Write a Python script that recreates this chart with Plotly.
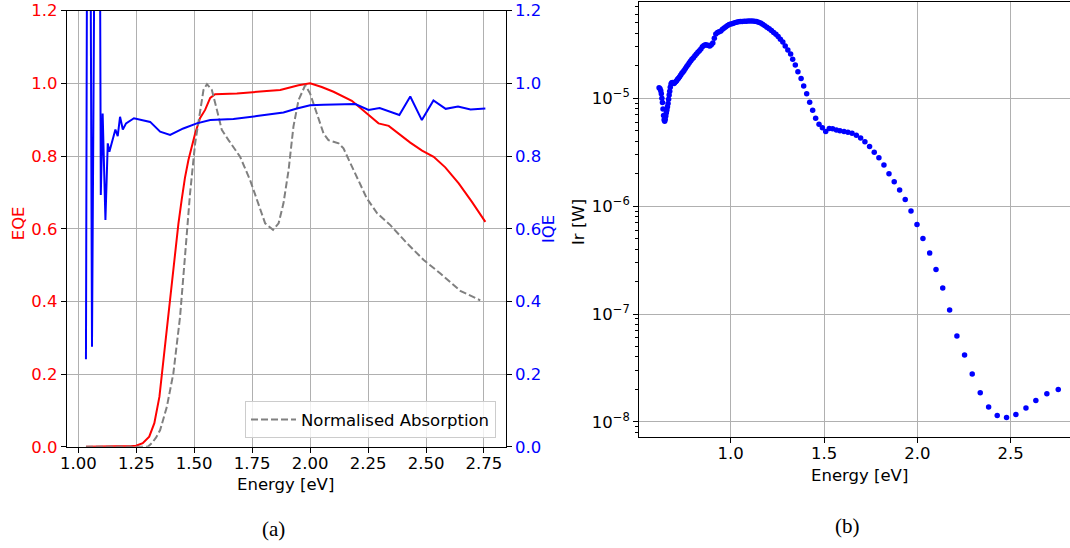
import plotly.graph_objects as go

# ---------------- (a) quantum efficiency vs photon energy ----------------
eqe_energy = [1.033, 1.10, 1.15, 1.20, 1.23, 1.249, 1.278, 1.306, 1.328, 1.350, 1.371,
              1.393, 1.417, 1.432, 1.446, 1.460, 1.475, 1.504, 1.525, 1.547, 1.569, 1.590, 1.684,
              1.741, 1.813, 1.871, 1.914, 1.950, 2.000, 2.050, 2.101, 2.180, 2.245,
              2.295, 2.339, 2.385, 2.432, 2.483, 2.533, 2.583, 2.641, 2.698, 2.756]
eqe = [0.0, 0.0, 0.0, 0.001, 0.002, 0.003, 0.010, 0.028, 0.065, 0.138, 0.257,
       0.385, 0.535, 0.615, 0.680, 0.740, 0.789, 0.862, 0.904, 0.927, 0.960, 0.970, 0.972,
       0.976, 0.979, 0.982, 0.989, 0.995, 1.000, 0.990, 0.977, 0.952, 0.917,
       0.890, 0.883, 0.860, 0.837, 0.815, 0.798, 0.769, 0.725, 0.674, 0.619]

iqe_energy = [1.033, 1.044, 1.059, 1.085, 1.097, 1.105, 1.117, 1.127, 1.134, 1.160,
              1.170, 1.180, 1.192, 1.206, 1.240, 1.275, 1.310, 1.353, 1.396, 1.453,
              1.511, 1.569, 1.669, 1.770, 1.885, 1.943, 2.000, 2.058, 2.140, 2.195,
              2.252, 2.300, 2.385, 2.432, 2.482, 2.532, 2.585, 2.638, 2.692, 2.756]
iqe = [0.241, 3.0, 0.275, 3.0, 0.693, 0.917, 0.624, 0.835, 0.812, 0.873,
       0.855, 0.908, 0.873, 0.890, 0.904, 0.900, 0.894, 0.867, 0.858, 0.876,
       0.890, 0.899, 0.902, 0.910, 0.920, 0.931, 0.940, 0.941, 0.941, 0.943,
       0.927, 0.932, 0.913, 0.964, 0.899, 0.953, 0.930, 0.936, 0.928, 0.931]

abs_energy = [1.033, 1.15, 1.25, 1.300, 1.317, 1.335, 1.353, 1.382, 1.410, 1.439,
              1.461, 1.482, 1.504, 1.525, 1.540, 1.555, 1.576, 1.598, 1.619, 1.648,
              1.698, 1.741, 1.770, 1.806, 1.840, 1.864, 1.885, 1.907, 1.928, 1.950,
              1.979, 2.000, 2.029, 2.058, 2.079, 2.123, 2.144, 2.180, 2.216, 2.245,
              2.290, 2.346, 2.418, 2.490, 2.562, 2.648, 2.734]
absorption = [0.0, 0.0, 0.0, 0.0, 0.010, 0.025, 0.046, 0.110, 0.202, 0.358,
              0.530, 0.697, 0.835, 0.927, 0.982, 0.998, 0.982, 0.927, 0.872, 0.844,
              0.798, 0.734, 0.679, 0.615, 0.597, 0.615, 0.670, 0.761, 0.881, 0.954,
              0.995, 0.972, 0.917, 0.862, 0.844, 0.835, 0.821, 0.771, 0.720, 0.683,
              0.642, 0.610, 0.560, 0.514, 0.477, 0.429, 0.403]

# ---------------- (b) irradiance vs photon energy ----------------
ir_energy = [0.616, 0.621, 0.625, 0.628, 0.631, 0.634, 0.637, 0.640, 0.643, 0.646,
             0.649, 0.652, 0.655, 0.658, 0.661, 0.664, 0.667, 0.670, 0.673, 0.676,
             0.680, 0.684, 0.688, 0.692, 0.696, 0.700, 0.705, 0.710, 0.715, 0.720,
             0.726, 0.732, 0.738, 0.744, 0.750, 0.757, 0.764, 0.771, 0.778, 0.785,
             0.792, 0.800, 0.808, 0.816, 0.824, 0.832, 0.840, 0.848, 0.856, 0.864,
             0.872, 0.880, 0.888, 0.896, 0.904, 0.912, 0.920, 0.929, 0.938, 0.947,
             0.956, 0.965, 0.974, 0.983, 0.992, 1.001, 1.011, 1.021, 1.031, 1.041,
             1.051, 1.061, 1.072, 1.083, 1.094, 1.105, 1.116, 1.127, 1.138, 1.149,
             1.160, 1.171, 1.182, 1.194, 1.206, 1.218, 1.230, 1.242, 1.254, 1.266,
             1.279, 1.292, 1.306, 1.321, 1.332, 1.346, 1.360, 1.377, 1.391, 1.407,
             1.423, 1.439, 1.455, 1.473, 1.491, 1.509, 1.528, 1.546, 1.566, 1.585,
             1.607, 1.628, 1.650, 1.673, 1.696, 1.719, 1.744, 1.769, 1.794, 1.821,
             1.848, 1.876, 1.905, 1.935, 1.966, 1.998, 2.030, 2.066, 2.100, 2.136,
             2.173, 2.212, 2.253, 2.294, 2.337, 2.382, 2.428, 2.478, 2.528, 2.582,
             2.635, 2.694, 2.755]
ir_watts = [1.25e-5, 1.22e-5, 1.17e-5, 1.10e-5, 1.00e-5, 9.12e-6, 7.94e-6, 6.92e-6, 6.31e-6, 6.10e-6,
            6.38e-6, 6.84e-6, 7.33e-6, 7.76e-6, 8.32e-6, 8.91e-6, 9.77e-6, 1.07e-5, 1.16e-5, 1.26e-5,
            1.35e-5, 1.39e-5, 1.40e-5, 1.38e-5, 1.37e-5, 1.40e-5, 1.42e-5, 1.45e-5, 1.50e-5, 1.53e-5,
            1.58e-5, 1.64e-5, 1.70e-5, 1.75e-5, 1.81e-5, 1.88e-5, 1.97e-5, 2.04e-5, 2.13e-5, 2.21e-5,
            2.29e-5, 2.37e-5, 2.47e-5, 2.57e-5, 2.66e-5, 2.75e-5, 2.85e-5, 2.99e-5, 3.08e-5, 3.13e-5,
            3.11e-5, 3.08e-5, 3.05e-5, 3.13e-5, 3.25e-5, 3.59e-5, 3.94e-5, 4.06e-5, 4.12e-5, 4.19e-5,
            4.35e-5, 4.47e-5, 4.60e-5, 4.71e-5, 4.81e-5, 4.88e-5, 4.92e-5, 5.01e-5, 5.06e-5, 5.11e-5,
            5.13e-5, 5.14e-5, 5.15e-5, 5.16e-5, 5.18e-5, 5.19e-5, 5.19e-5, 5.16e-5, 5.13e-5, 5.06e-5,
            4.98e-5, 4.84e-5, 4.70e-5, 4.55e-5, 4.39e-5, 4.24e-5, 4.07e-5, 3.91e-5, 3.73e-5, 3.51e-5,
            3.31e-5, 3.05e-5, 2.80e-5, 2.57e-5, 2.30e-5, 2.03e-5, 1.76e-5, 1.52e-5, 1.30e-5, 1.10e-5,
            9.18e-6, 7.74e-6, 6.53e-6, 5.74e-6, 5.31e-6, 4.91e-6, 5.24e-6, 5.20e-6, 5.06e-6, 4.98e-6,
            4.91e-6, 4.84e-6, 4.74e-6, 4.54e-6, 4.27e-6, 3.94e-6, 3.56e-6, 3.16e-6, 2.80e-6, 2.40e-6,
            2.00e-6, 1.68e-6, 1.41e-6, 1.15e-6, 8.99e-7, 6.76e-7, 5.01e-7, 3.67e-7, 2.59e-7, 1.74e-7,
            1.09e-7, 6.25e-8, 4.17e-8, 2.78e-8, 1.87e-8, 1.38e-8, 1.15e-8, 1.10e-8, 1.17e-8, 1.35e-8,
            1.58e-8, 1.83e-8, 2.00e-8]

energy_ticks_a = [1.00, 1.25, 1.50, 1.75, 2.00, 2.25, 2.50, 2.75]
energy_ticks_b = [1.0, 1.5, 2.0, 2.5]
qe_ticks = [0.0, 0.2, 0.4, 0.6, 0.8, 1.0, 1.2]
ir_ticks = [1e-8, 1e-7, 1e-6, 1e-5]
ir_ticktext = ["10<sup>\u22128</sup>", "10<sup>\u22127</sup>", "10<sup>\u22126</sup>", "10<sup>\u22125</sup>"]

FONT = "DejaVu Sans"
FS = 16.5
GRID = "#b0b0b0"
W, H = 1070, 548

fig = go.Figure()

fig.add_trace(go.Scatter(x=eqe_energy, y=eqe, mode="lines", xaxis="x", yaxis="y",
                         line=dict(color="#ff0000", width=2), showlegend=False))
fig.add_trace(go.Scatter(x=abs_energy, y=absorption, mode="lines", xaxis="x", yaxis="y",
                         name="Normalised Absorption",
                         line=dict(color="#808080", width=2, dash="7px,3px")))
fig.add_trace(go.Scatter(x=iqe_energy, y=iqe, mode="lines", xaxis="x", yaxis="y2",
                         line=dict(color="#0000ff", width=2), showlegend=False))
fig.add_trace(go.Scatter(x=ir_energy, y=ir_watts, mode="markers", xaxis="x2", yaxis="y3",
                         marker=dict(color="#0000ff", size=5.5, line=dict(width=0)),
                         showlegend=False))

axis_common = dict(showline=True, linecolor="black", linewidth=1.2, ticks="outside",
                   ticklen=5, tickwidth=1.2, tickcolor="black", zeroline=False,
                   automargin=False,
                   tickfont=dict(family=FONT, size=FS, color="black"))

minor_ir = [m * 10.0 ** p for p in range(-9, -4) for m in range(2, 10)]

fig.update_layout(
    width=W, height=H,
    margin=dict(l=0, r=0, t=0, b=0),
    paper_bgcolor="white", plot_bgcolor="white",
    font=dict(family=FONT, size=FS, color="black"),
    xaxis=dict(domain=[67 / W, 505.6 / W], range=[0.9512, 2.8433], anchor="y",
               tickvals=energy_ticks_a, tickformat=".2f", mirror=True,
               ticklabelstandoff=-4,
               showgrid=True, gridcolor=GRID, gridwidth=1, **axis_common),
    yaxis=dict(domain=[1 - 446.8 / H, 1 - 10.7 / H], range=[0, 1.2], anchor="x",
               tickvals=qe_ticks, tickformat=".1f",
               showgrid=True, gridcolor=GRID, gridwidth=1,
               **{**axis_common, "tickfont": dict(family=FONT, size=FS, color="#ff0000")}),
    yaxis2=dict(overlaying="y", side="right", anchor="x", range=[0, 1.2],
                tickvals=qe_ticks, tickformat=".1f", showgrid=False,
                **{**axis_common, "tickfont": dict(family=FONT, size=FS, color="#0000ff")}),
    xaxis2=dict(domain=[639.3 / W, 1.0], range=[0.510, 2.818], anchor="y3",
                tickvals=energy_ticks_b, tickformat=".1f", mirror=True,
                ticklabelstandoff=-4,
                showgrid=True, gridcolor=GRID, gridwidth=1, **axis_common),
    yaxis3=dict(domain=[1 - 437.3 / H, 1 - 1.7 / H], type="log", range=[-8.142, -4.106],
                anchor="x2", tickvals=ir_ticks, ticktext=ir_ticktext,
                showgrid=True, gridcolor=GRID, gridwidth=1,
                minor=dict(ticks="outside", ticklen=3, tickcolor="black", tickwidth=1,
                           tickvals=minor_ir, showgrid=False),
                **axis_common),
    legend=dict(x=496 / W, xanchor="right", y=1 - 438.3 / H, yanchor="bottom",
                itemwidth=45,
                bgcolor="rgba(255,255,255,0.8)", bordercolor="#cccccc", borderwidth=1,
                font=dict(family=FONT, size=FS, color="black")),
)

def label(text, x, y, color="black", angle=0, size=FS, family=FONT):
    fig.add_annotation(text=text, x=x / W, y=1 - y / H, xref="paper", yref="paper",
                       showarrow=False, textangle=angle, xanchor="center", yanchor="middle",
                       font=dict(family=family, size=size, color=color))

label("EQE", 18.3, 223, color="#ff0000", angle=-90)
label("IQE", 548, 229, color="#0000ff", angle=-90)
label("Energy [eV]", 285.8, 484)
label("Energy [eV]", 859, 475)
label("Ir [W]", 578, 222, angle=-90)
label("(a)", 273.3, 529, size=21, family="Liberation Serif")
label("(b)", 847, 526, size=21, family="Liberation Serif")

fig.write_html("out.html")
